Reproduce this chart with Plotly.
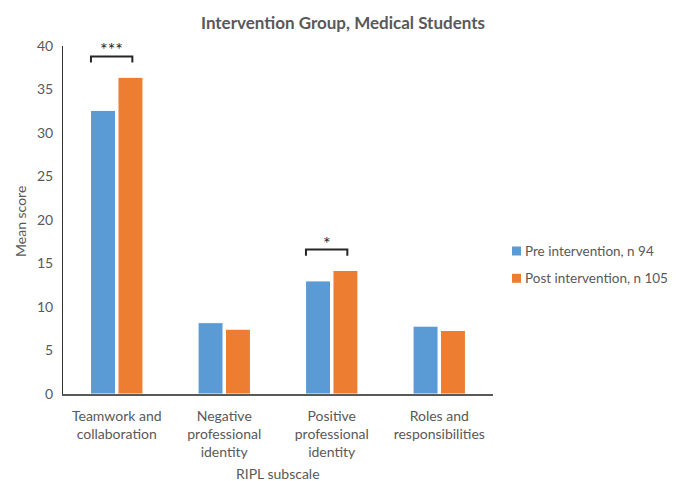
import plotly.graph_objects as go

categories = ["Teamwork and<br>collaboration", "Negative<br>professional<br>identity",
              "Positive<br>professional<br>identity", "Roles and<br>responsibilities"]
pre_values = [32.6, 8.2, 13.0, 7.8]
post_values = [36.4, 7.45, 14.2, 7.3]
series_names = ["Pre intervention, n 94", "Post intervention, n 105"]
significance = ["***", "", "*", ""]

FONT = "Lato"
GREY = "#595959"
BLUE = "#5B9BD5"
ORANGE = "#ED7D31"
colors = [BLUE, ORANGE]

# page body has an 8px margin, so the figure is drawn 8px smaller
W, H = 669, 473
L, R, T, B = 55, 184, 38, 87
PW, PH = W - L - R, H - T - B


def px_x(p):
    return (p - L) / PW


def px_y(p):
    return (H - B - p) / PH


fig = go.Figure()
for vals, name, col in zip([pre_values, post_values], series_names, colors):
    fig.add_trace(go.Bar(x=categories, y=vals, name=name, showlegend=False,
                         marker=dict(color=col, line=dict(color="white", width=1))))

shapes = []
annotations = []
for i, sig in enumerate(significance):
    if not sig:
        continue
    top = max(pre_values[i], post_values[i]) + 2.4
    x0, x1 = i - 0.24, i + 0.145
    shapes.append(dict(type="path", xref="x", yref="y",
                       path=f"M {x0},{top-0.7} L {x0},{top} L {x1},{top} L {x1},{top-0.7}",
                       line=dict(color="#262626", width=2)))
    annotations.append(dict(x=(x0 + x1) / 2, y=top, xref="x", yref="y", text=sig,
                            showarrow=False, yanchor="bottom", yshift=-6,
                            font=dict(family=FONT, size=18, color="#262626")))

# manual legend
for k, (name, col) in enumerate(zip(series_names, colors)):
    cy = 243 + k * 27.3
    shapes.append(dict(type="rect", xref="paper", yref="paper",
                       x0=px_x(504), x1=px_x(513), y0=px_y(cy + 4.5), y1=px_y(cy - 4.5),
                       fillcolor=col, line=dict(width=0)))
    annotations.append(dict(text=name, xref="paper", yref="paper",
                            x=px_x(515), y=px_y(cy), showarrow=False,
                            xanchor="left", yanchor="middle",
                            font=dict(family=FONT, size=13.5, color=GREY)))

annotations.append(dict(text="Mean score", xref="paper", yref="paper",
                        x=px_x(12), y=px_y(214), textangle=-90, showarrow=False,
                        xanchor="center", yanchor="middle",
                        font=dict(family=FONT, size=14, color=GREY)))
annotations.append(dict(text="RIPL subscale", xref="paper", yref="paper",
                        x=0.5, y=px_y(465), showarrow=False,
                        xanchor="center", yanchor="middle",
                        font=dict(family=FONT, size=14, color=GREY)))

fig.update_layout(
    width=W, height=H,
    margin=dict(l=L, r=R, t=T, b=B),
    paper_bgcolor="white", plot_bgcolor="white",
    font=dict(family=FONT, size=14, color=GREY),
    title=dict(text="<b>Intervention Group, Medical Students</b>",
               x=335 / W, xanchor="center", y=1 - 15 / H, yanchor="middle",
               font=dict(family=FONT, size=17, color=GREY)),
    barmode="group", bargap=0.49, bargroupgap=0.09,
    showlegend=False,
    xaxis=dict(showline=True, linecolor=GREY, linewidth=1.5, ticks="",
               tickfont=dict(family=FONT, size=14, color=GREY), ticklabelstandoff=8),
    yaxis=dict(range=[0, 40], dtick=5, showline=True, linecolor="#303030",
               linewidth=1, showgrid=False, zeroline=False, ticks="",
               tickfont=dict(family=FONT, size=14, color=GREY), ticklabelstandoff=6),
    shapes=shapes, annotations=annotations,
)

fig.write_html("out.html")
